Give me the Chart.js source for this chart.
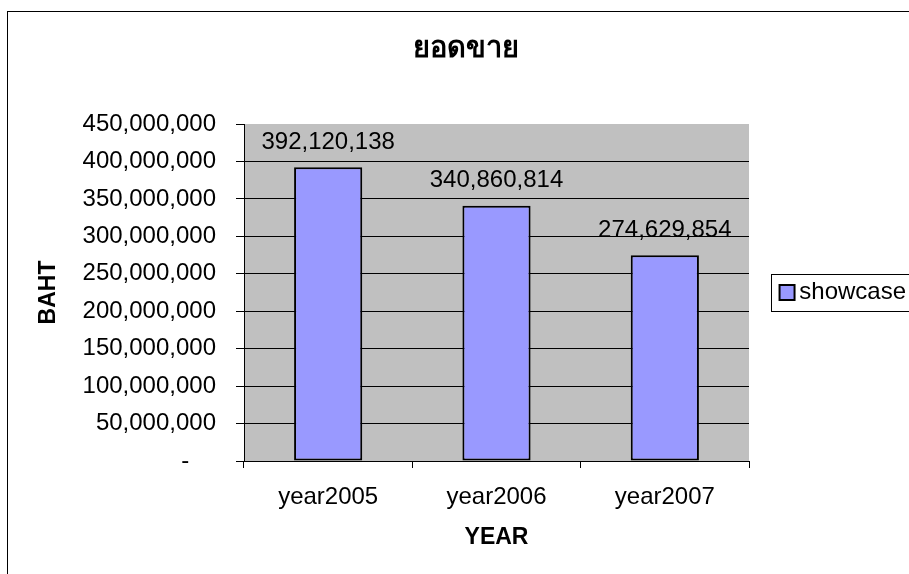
<!DOCTYPE html>
<html>
<head>
<meta charset="utf-8">
<script src="https://cdn.jsdelivr.net/npm/chart.js@4.4.1/dist/chart.umd.min.js"></script>
<style>
  html, body { margin: 0; padding: 0; background: #fff; overflow: hidden; width: 909px; height: 574px; }
  #frame { position: absolute; left: 7px; top: 11px; border: 1px solid #000; width: 920px; height: 570px; }
  canvas { display: block; }
</style>
</head>
<body>
<div id="frame"><canvas id="sales" width="920" height="570"></canvas></div>
<script>
// ── Data ───────────────────────────────────────────────────
const chartTitle = 'ยอดขาย';
const categories = ['year2005', 'year2006', 'year2007'];
const seriesName = 'showcase';
const salesBaht = [392120138, 340860814, 274629854];
const yMin = 0;
const yMax = 450000000;
const yStep = 50000000;
const xTitle = 'YEAR';
const yTitle = 'BAHT';

// ── Style ──────────────────────────────────────────────────
const FONT = "'Liberation Sans', Arial, 'Noto Sans', sans-serif";
Chart.defaults.font.family = FONT;
Chart.defaults.font.size = 24;
Chart.defaults.color = '#000';

const fmt = v => v.toLocaleString('en-US');

// grey plot area like the old Excel default
const plotBackground = {
  id: 'plotBackground',
  beforeDraw(chart) {
    const { ctx, chartArea: a } = chart;
    ctx.save();
    ctx.fillStyle = '#c0c0c0';
    ctx.fillRect(a.left, a.top, a.right - a.left, a.bottom - a.top);
    ctx.restore();
  },
};

// numbers above each bar
const valueLabels = {
  id: 'valueLabels',
  afterDatasetsDraw(chart) {
    const { ctx } = chart;
    ctx.save();
    ctx.font = `24px ${FONT}`;
    ctx.fillStyle = '#000';
    ctx.textAlign = 'center';
    ctx.textBaseline = 'middle';
    chart.getDatasetMeta(0).data.forEach((bar, i) => {
      ctx.fillText(fmt(salesBaht[i]), bar.x, bar.y - 25);
    });
    ctx.restore();
  },
};

// box round the legend
const legendFrame = {
  id: 'legendFrame',
  afterDraw(chart) {
    const lg = chart.legend;
    if (!lg || !lg.legendHitBoxes || !lg.legendHitBoxes.length) return;
    const hb = lg.legendHitBoxes[0];
    const cy = hb.top + hb.height / 2;
    const { ctx } = chart;
    ctx.save();
    ctx.strokeStyle = '#000';
    ctx.lineWidth = 1;
    ctx.strokeRect(Math.round(hb.left - 16) + 0.5, Math.round(cy - 18.5) + 0.5, 220, 37);
    ctx.restore();
  },
};

new Chart(document.getElementById('sales'), {
  type: 'bar',
  data: {
    labels: categories,
    datasets: [{
      label: seriesName,
      data: salesBaht,
      backgroundColor: '#9999ff',
      borderColor: '#000',
      borderWidth: 2,
      borderSkipped: false,
      barPercentage: 0.405,
      categoryPercentage: 1,
    }],
  },
  options: {
    responsive: false,
    animation: false,
    devicePixelRatio: 1,
    layout: { padding: { left: 18.5, right: 22.5, top: 0, bottom: 21.2 } },
    plugins: {
      title: {
        display: true,
        text: chartTitle,
        color: '#000',
        font: { size: 29, weight: 'bold' },
        padding: { top: 19.6, bottom: 57.6 },
      },
      legend: {
        position: 'right',
        fullSize: false,
        maxWidth: 156.5,
        labels: {
          usePointStyle: true,
          pointStyle: 'rect',
          boxWidth: 0.5,
          boxHeight: 15,
          padding: 37.8,
          color: '#000',
          font: { size: 24 },
        },
      },
      tooltip: { enabled: false },
    },
    scales: {
      x: {
        grid: { drawOnChartArea: false, tickLength: 7, tickColor: '#000', offset: true },
        border: { color: '#000', width: 1 },
        ticks: { color: '#000', padding: 14.6, font: { size: 24 } },
        title: {
          display: true,
          text: xTitle,
          color: '#000',
          font: { size: 23, weight: 'bold' },
          padding: { top: 0, bottom: 9 },
        },
        afterFit(s) { s.height = 99.8; },
      },
      y: {
        min: yMin,
        max: yMax,
        ticks: {
          stepSize: yStep,
          padding: 20,
          color: '#000',
          font: { size: 24 },
          callback: v => (v === 0 ? '-\u2007\u2007' : fmt(v)),
        },
        grid: {
          color: c => (c.tick && c.tick.value === yMax ? 'rgba(0,0,0,0)' : '#000'),
          tickColor: '#000',
          tickLength: 8,
        },
        border: { color: '#000', width: 1 },
        title: {
          display: true,
          text: yTitle,
          color: '#000',
          font: { size: 23, weight: 'bold' },
          padding: { top: 8.4, bottom: 0 },
        },
        afterFit(s) { s.width = 217.5; },
      },
    },
  },
  plugins: [plotBackground, valueLabels, legendFrame],
});
</script>
</body>
</html>
